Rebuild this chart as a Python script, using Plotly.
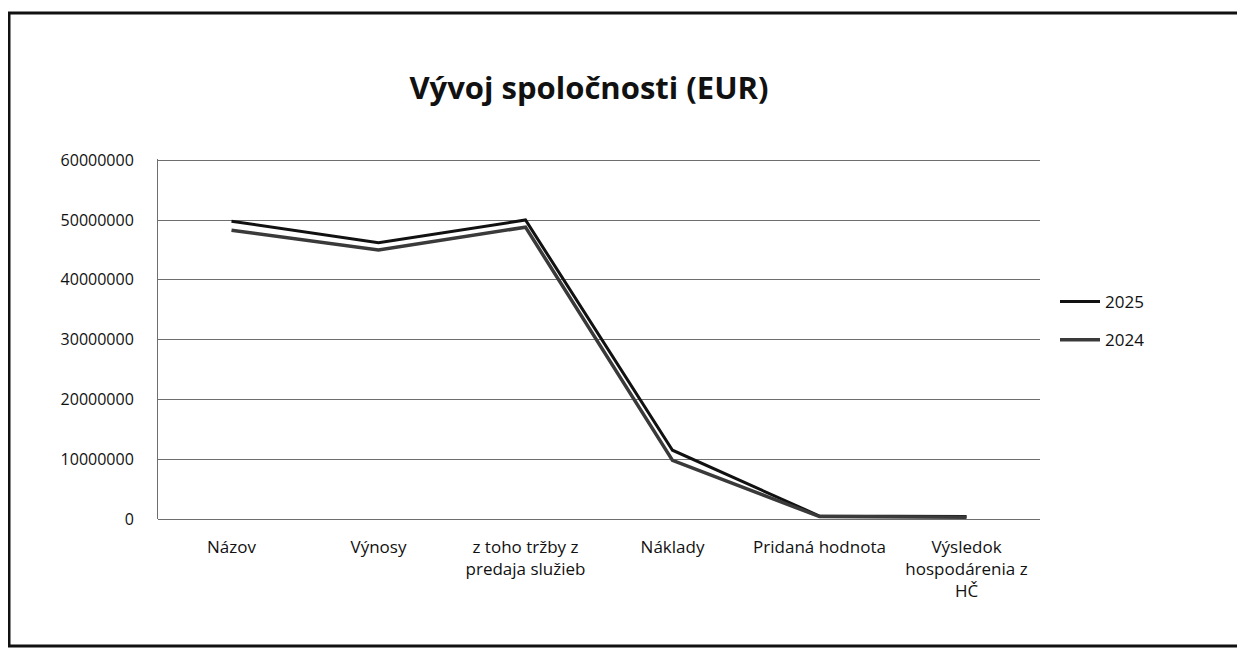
import plotly.graph_objects as go

categories = ["Názov", "Výnosy", "z toho tržby z<br>predaja služieb", "Náklady",
              "Pridaná hodnota", "Výsledok<br>hospodárenia z<br>HČ"]
values_2025 = [49800000, 46200000, 50000000, 11500000, 500000, 400000]
values_2024 = [48300000, 45000000, 48800000, 9800000, 400000, 300000]
y_ticks = [0, 10000000, 20000000, 30000000, 40000000, 50000000, 60000000]

W, H = 1245, 648
OFF = 8  # page body offset
L, R, T, B = 158 - OFF, 205 + OFF, 159 - OFF, 129 + OFF
pw, ph = W - L - R, H - T - B

def px(x):
    return (x - OFF - L) / pw

def py(y):
    return (H - B - (y - OFF)) / ph

FONT = "Open Sans, Lato, sans-serif"

fig = go.Figure()
fig.add_trace(go.Scatter(x=categories, y=values_2025, mode="lines", name="2025",
                         line=dict(color="#111111", width=3), legendgroup="a"))
fig.add_trace(go.Scatter(x=categories, y=values_2024, mode="lines", name="2024",
                         line=dict(color="#3a3a3a", width=3.5), legendgroup="b"))

fig.update_layout(
    width=W, height=H,
    margin=dict(l=L, r=R, t=T, b=B),
    paper_bgcolor="white", plot_bgcolor="white",
    font=dict(family=FONT, size=16, color="#111111"),
    title=dict(text="<b>Vývoj spoločnosti (EUR)</b>", x=px(589), xref="paper",
               y=1 - (88 - OFF) / H, yref="container", yanchor="middle", xanchor="center",
               font=dict(family=FONT, size=31, color="#111111")),
    showlegend=True,
    legend=dict(x=px(1055), y=py(284), xanchor="left", yanchor="top",
                font=dict(size=17), tracegroupgap=13, bgcolor="rgba(0,0,0,0)",
                itemwidth=40),
    xaxis=dict(type="category", range=[-0.5, 5.5], showgrid=False, showline=False,
               ticks="", tickfont=dict(size=17), ticklabelstandoff=16),
    yaxis=dict(range=[0, 60200000], tickvals=y_ticks, tickformat="d",
               showgrid=True, gridcolor="#6e6e6e", gridwidth=1,
               showline=True, linecolor="#6e6e6e", linewidth=1,
               zeroline=True, zerolinecolor="#6e6e6e", zerolinewidth=1,
               ticks="", ticklabelstandoff=20, tickfont=dict(size=16)),
    shapes=[dict(type="rect", xref="paper", yref="paper",
                 x0=px(9), x1=px(1240), y0=py(646), y1=py(13),
                 line=dict(color="#111111", width=3), layer="below")],
)

fig.write_html("out.html")
